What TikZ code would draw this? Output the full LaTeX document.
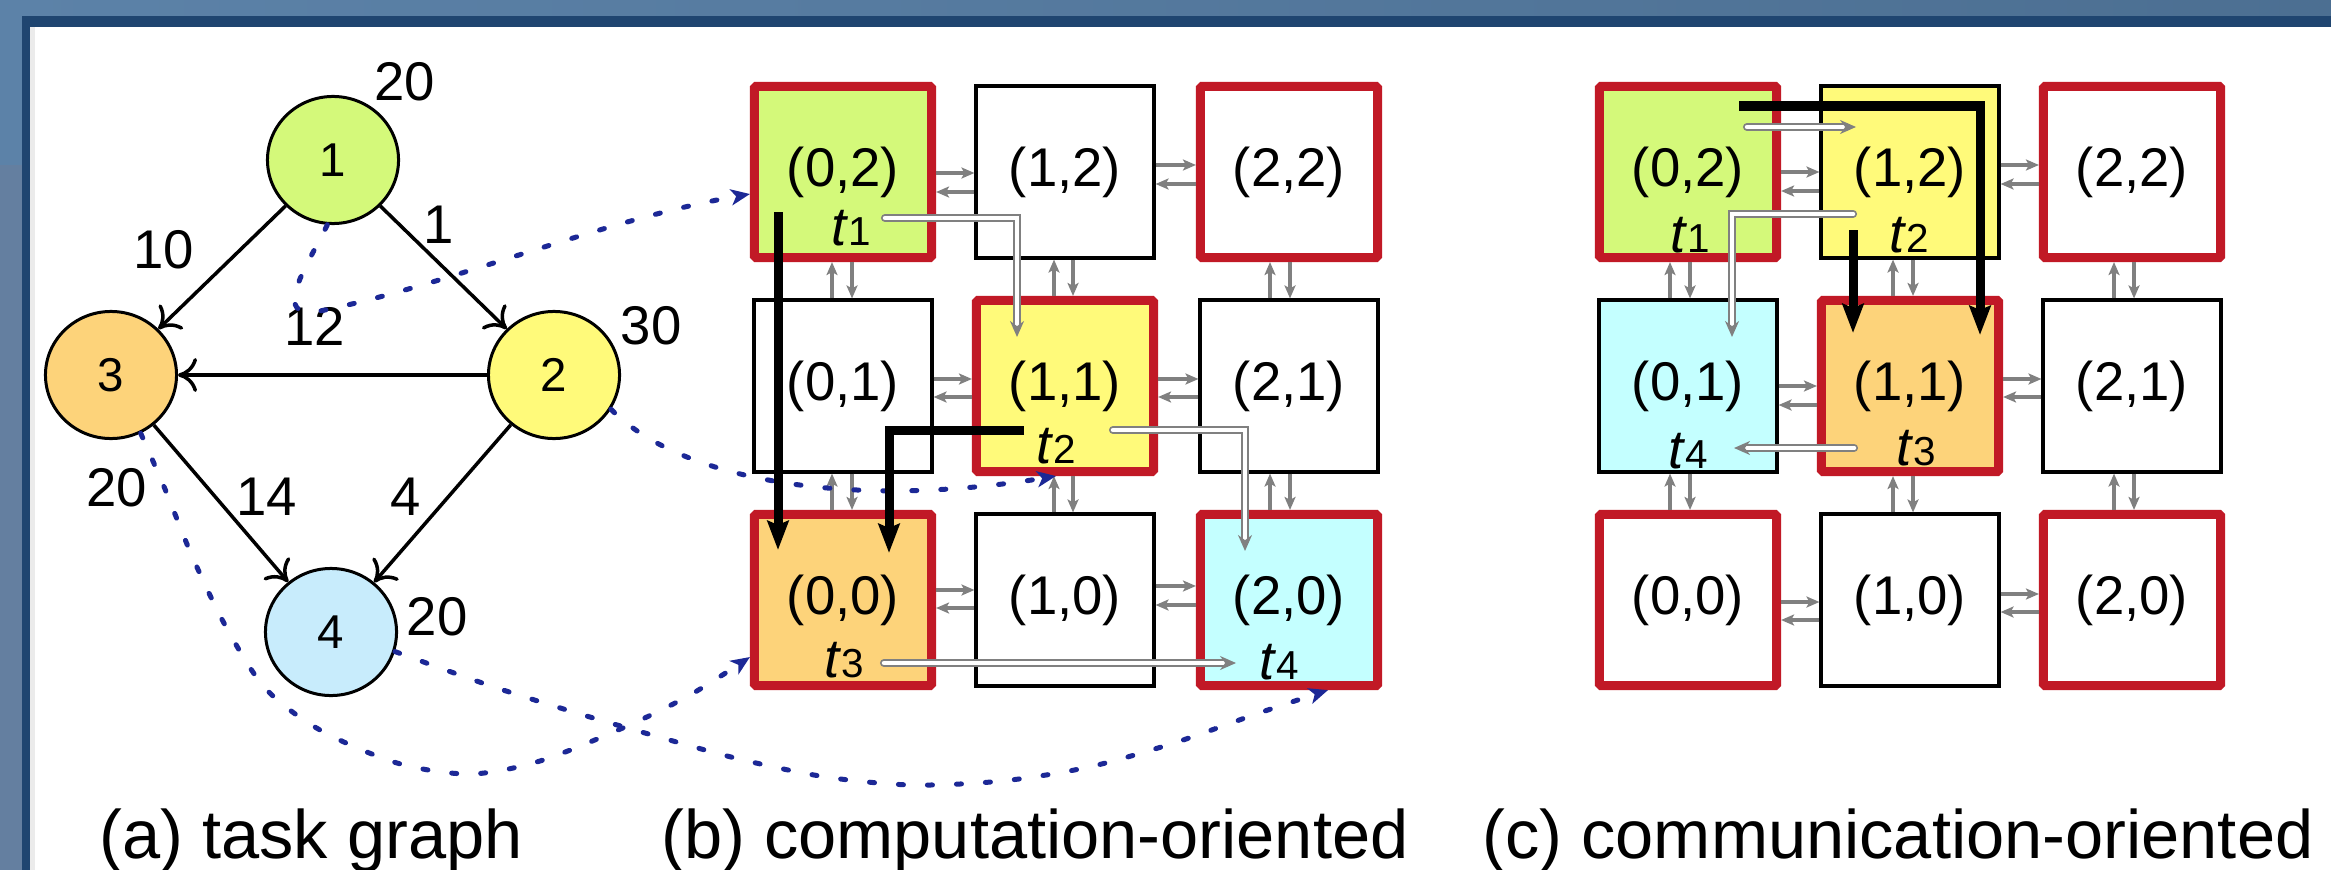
\documentclass[tikz,border=0pt]{standalone}
\usepackage{fontspec}
\setmainfont{Liberation Sans}
\usetikzlibrary{arrows.meta,shapes.geometric,calc}
\definecolor{frameblue}{RGB}{31,69,112}
\definecolor{bgA}{RGB}{92,130,168}
\definecolor{bgB}{RGB}{76,111,146}
\definecolor{bgC}{RGB}{100,127,160}
\definecolor{meshred}{RGB}{193,25,38}
\definecolor{cgreen}{RGB}{212,249,122}
\definecolor{cyellow}{RGB}{255,250,122}
\definecolor{corange}{RGB}{253,211,122}
\definecolor{ccyan}{RGB}{196,255,255}
\definecolor{tblue}{RGB}{200,236,252}
\definecolor{dotblue}{RGB}{28,40,150}
\definecolor{arrgray}{RGB}{128,128,128}
\newcommand\hpair[4]{%
  \draw[garr] ([yshift=#3]#1.east) -- ([yshift=#3]#2.west);
  \draw[garr] ([yshift=#4]#2.west) -- ([yshift=#4]#1.east);}
\newcommand\vpair[4]{%
  \draw[garr] ([xshift=#3]#2.north) -- ([xshift=#3]#1.south);
  \draw[garr] ([xshift=#4]#1.south) -- ([xshift=#4]#2.north);}
\newcommand\tlab[1]{\textit{t}{\fontsize{11.5}{12}\selectfont #1}}
\begin{document}
\begin{tikzpicture}[x=0.01cm,y=-0.01cm,
  lbl/.style={font=\fontsize{15.5}{18}\selectfont, inner sep=0pt},
  tnode/.style={draw=black, line width=0.03cm, ellipse, minimum width=1.31cm, minimum height=1.27cm, inner sep=0pt, font=\fontsize{13.5}{16}\selectfont},
  tedge/.style={line width=0.035cm, -{Computer Modern Rightarrow[length=0.19cm,width=0.34cm]}},
  redbox/.style={draw=meshred, fill=white, line width=0.09cm, rounded corners=0.015cm, minimum width=1.77cm, minimum height=1.71cm, inner sep=0pt, font=\fontsize{15.5}{18}\selectfont},
  blkbox/.style={draw=black, fill=white, line width=0.04cm, minimum width=1.77cm, minimum height=1.71cm, inner sep=0pt, font=\fontsize{15.5}{18}\selectfont},
  garr/.style={draw=arrgray, line width=0.035cm, -{Stealth[length=0.13cm,width=0.11cm,inset=0.03cm]}},
  barr/.style={draw=black, line width=0.09cm, -{Stealth[length=0.29cm,width=0.21cm,inset=0.04cm]}},
  warr/.style={draw=arrgray, double=white, double distance=0.045cm, line width=0.018cm, line cap=round, -{Stealth[length=0.16cm,width=0.14cm]}},
  dotarr/.style={draw=dotblue, line width=0.05cm, line cap=round, dash pattern=on 0.05cm off 0.24cm, -{Stealth[length=0.19cm,width=0.16cm,inset=0.05cm]}},
  captxt/.style={font=\fontsize{19.5}{22}\selectfont, anchor=base, inner sep=0pt},
  tl/.style={inner sep=0pt, font=\fontsize{15.5}{18}\selectfont}
]
\useasboundingbox (0,0) rectangle (2331,870);
% frame
\shade[left color=bgA, right color=bgB] (0,0) rectangle (2331,870);
\fill[bgC] (0,165) rectangle (22,870);
\fill[frameblue] (22,16) rectangle (2331,870);
\fill[white] (30,27) rectangle (2331,870);
\fill[black!8] (30,27) rectangle (35,870);

% task graph
\node[tnode, fill=cgreen] (n1) at (333,160) {1};
\node[tnode, fill=cyellow] (n2) at (554,375) {2};
\node[tnode, fill=corange] (n3) at (111,375) {3};
\node[tnode, fill=tblue] (n4) at (331,632) {4};
\draw[tedge] (n1) -- (n3);
\draw[tedge] (n1) -- (n2);
\draw[tedge] (n2) -- (n3);
\draw[tedge] (n3) -- (n4);
\draw[tedge] (n2) -- (n4);
\node[lbl] (w1) at (405,82) {20};
\node[lbl] (w2) at (651,326) {30};
\node[lbl] (w4) at (437,617) {20};
\node[lbl] (w3) at (117,488) {20};
\node[lbl] (e13) at (164,250) {10};
\node[lbl] (e12) at (439,225) {1};
\node[lbl] (e23) at (315,326) {12};
\node[lbl] (e34) at (267,497) {14};
\node[lbl] (e24) at (406,497) {4};

% mesh (b)
\node[redbox, fill=cgreen] (b02) at (843,172) {(0,2)};
\node[blkbox] (b12) at (1065,172) {(1,2)};
\node[redbox] (b22) at (1289,172) {(2,2)};
\node[blkbox] (b01) at (843,386) {(0,1)};
\node[redbox, fill=cyellow] (b11) at (1065,386) {(1,1)};
\node[blkbox] (b21) at (1289,386) {(2,1)};
\node[redbox, fill=corange] (b00) at (843,600) {(0,0)};
\node[blkbox] (b10) at (1065,600) {(1,0)};
\node[redbox, fill=ccyan] (b20) at (1289,600) {(2,0)};

% mesh (c)
\node[redbox, fill=cgreen] (c02) at (1688,172) {(0,2)};
\node[blkbox, fill=cyellow] (c12) at (1910,172) {(1,2)};
\node[redbox] (c22) at (2132,172) {(2,2)};
\node[blkbox, fill=ccyan] (c01) at (1688,386) {(0,1)};
\node[redbox, fill=corange] (c11) at (1910,386) {(1,1)};
\node[blkbox] (c21) at (2132,386) {(2,1)};
\node[redbox] (c00) at (1688,600) {(0,0)};
\node[blkbox] (c10) at (1910,600) {(1,0)};
\node[redbox] (c20) at (2132,600) {(2,0)};

% link arrows (b)
\hpair{b02}{b12}{-0.01cm}{-0.20cm}
\hpair{b12}{b22}{0.07cm}{-0.12cm}
\hpair{b01}{b11}{0.07cm}{-0.11cm}
\hpair{b11}{b21}{0.07cm}{-0.11cm}
\hpair{b00}{b10}{0.10cm}{-0.08cm}
\hpair{b10}{b20}{0.14cm}{-0.05cm}
\vpair{b02}{b01}{-0.11cm}{0.09cm}
\vpair{b01}{b00}{-0.11cm}{0.09cm}
\vpair{b12}{b11}{-0.11cm}{0.08cm}
\vpair{b11}{b10}{-0.11cm}{0.08cm}
\vpair{b22}{b21}{-0.19cm}{0.01cm}
\vpair{b21}{b20}{-0.19cm}{0.01cm}
% link arrows (c)
\hpair{c02}{c12}{0cm}{-0.19cm}
\hpair{c12}{c22}{0.07cm}{-0.12cm}
\hpair{c01}{c11}{0cm}{-0.19cm}
\hpair{c11}{c21}{0.07cm}{-0.11cm}
\hpair{c00}{c10}{-0.02cm}{-0.20cm}
\hpair{c10}{c20}{0.06cm}{-0.12cm}
\vpair{c02}{c01}{-0.18cm}{0.02cm}
\vpair{c01}{c00}{-0.18cm}{0.02cm}
\vpair{c12}{c11}{-0.17cm}{0.03cm}
\vpair{c11}{c10}{-0.17cm}{0.03cm}
\vpair{c22}{c21}{-0.18cm}{0.02cm}
\vpair{c21}{c20}{-0.18cm}{0.02cm}

% t labels
\node[tl] (tb1) at (851,228) {\tlab{1}};
\node[tl] (tb2) at (1056,446) {\tlab{2}};
\node[tl] (tb3) at (844,660) {\tlab{3}};
\node[tl] (tb4) at (1279,662) {\tlab{4}};
\node[tl] (tc1) at (1690,235) {\tlab{1}};
\node[tl] (tc2) at (1909,235) {\tlab{2}};
\node[tl] (tc3) at (1916,448) {\tlab{3}};
\node[tl] (tc4) at (1688,451) {\tlab{4}};

% mapping (dotted)
\draw[dotarr] (n1.265) .. controls (305,270) and (270,320) .. (320,311) .. controls (450,285) and (600,220) .. ([yshift=-0.22cm]b02.west);
\draw[dotarr] (n2.-31) .. controls (680,480) and (850,510) .. ([xshift=-0.09cm]b11.south);
\draw[dotarr] plot[smooth] coordinates {(n3.-63) (165,489) (192,556) (225,625) (265,688) (320,730) (397,763) (470,774) (540,761) (625,727) (690,695) ([yshift=-0.57cm]b00.west)};
\draw[dotarr] plot[smooth] coordinates {(n4.-17) (491,686) (580,714) (652,735) (739,759) (826,777) (912,785) (1002,781) (1089,767) (1174,743) (1259,713) ([xshift=0.39cm]b20.south)};

% routes (b)
\coordinate (kb1s) at (778,212); \coordinate (kb1e) at (778,550);
\coordinate (kb2s) at (1024,430); \coordinate (kb2e) at (889,553);
\coordinate (wb1s) at (885,218); \coordinate (wb1e) at (1017,337);
\coordinate (wb2s) at (1113,430); \coordinate (wb2e) at (1245,551);
\coordinate (wb3s) at (884,663); \coordinate (wb3e) at (1236,663);
\draw[warr] (wb1s) -| (wb1e);
\draw[warr] (wb2s) -| (wb2e);
\draw[warr] (wb3s) -- (wb3e);
\draw[barr] (kb1s) -- (kb1e);
\draw[barr] (kb2s) -| (kb2e);
% routes (c)
\coordinate (kc1s) at (1739,106); \coordinate (kc1e) at (1980,335);
\coordinate (kc2s) at (1853,230); \coordinate (kc2e) at (1853,333);
\coordinate (wc1s) at (1747,127); \coordinate (wc1e) at (1856,127);
\coordinate (wc2s) at (1853,214); \coordinate (wc2e) at (1732,337);
\coordinate (wc3s) at (1854,448); \coordinate (wc3e) at (1734,448);
\draw[warr] (wc1s) -- (wc1e);
\draw[warr] (wc2s) -| (wc2e);
\draw[warr] (wc3s) -- (wc3e);
\draw[barr] (kc1s) -| (kc1e);
\draw[barr] (kc2s) -- (kc2e);

% captions
\node[captxt] (capa) at (311,858) {(a) task graph};
\node[captxt] (capb) at (1035,858) {(b) computation-oriented};
\node[captxt] (capc) at (1898,858) {(c) communication-oriented};
\end{tikzpicture}
\end{document}
